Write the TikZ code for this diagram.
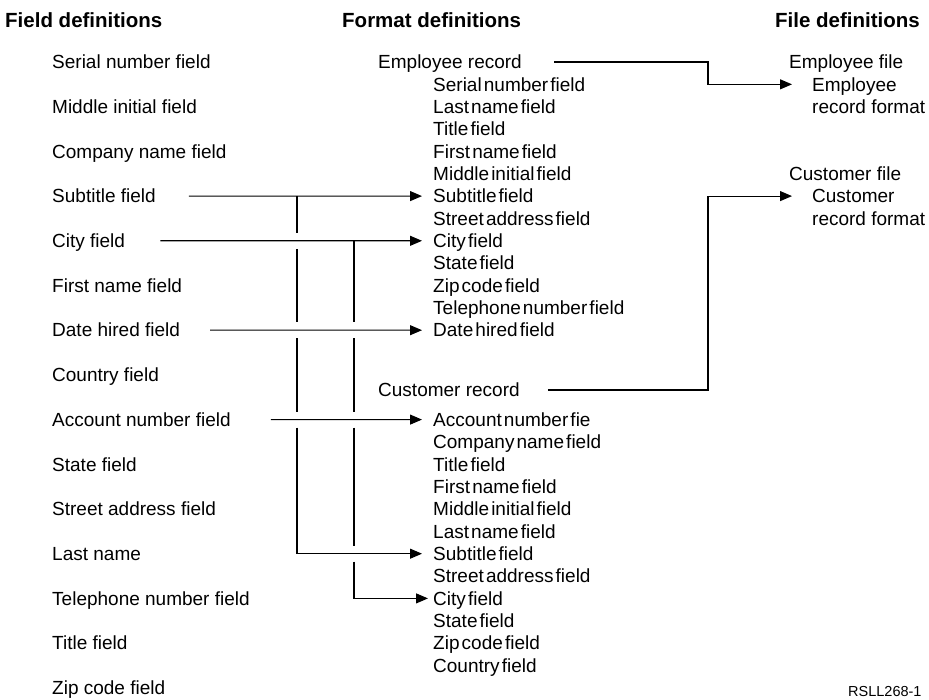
\documentclass[tikz,border=0pt]{standalone}
\usepackage{fontspec}
\setmainfont{Liberation Sans}
\newfontfamily\tightfont[WordSpace=0.4]{Liberation Sans}
\usetikzlibrary{arrows.meta}

\begin{document}
\begin{tikzpicture}[line cap=butt,line join=miter,>={Triangle[length=12pt,width=10pt]},x=1pt,y=-1pt,
  hdr/.style={anchor=west,inner sep=0pt,text height=14.7pt,text depth=0pt,font=\fontsize{20.5}{24}\selectfont\bfseries},
  fld/.style={anchor=west,inner sep=0pt,text height=13.6pt,text depth=0pt,font=\fontsize{19}{22}\selectfont},
  fmt/.style={fld,font=\fontsize{19}{22}\selectfont\tightfont},
  conn/.style={line width=1.1pt}]
\useasboundingbox (0,0) rectangle (929,700);
% headings
\node[hdr] (hField) at (5,20) {Field definitions};
\node[hdr] (hFormat) at (342,20) {Format definitions};
\node[hdr] (hFile) at (775,20) {File definitions};
% field definitions
\foreach \t [count=\i from 0] in {Serial number field,Middle initial field,Company name field,Subtitle field,City field,First name field,Date hired field,Country field,Account number field,State field,Street address field,Last name,Telephone number field,Title field,Zip code field}
  \node[fld] (l\i) at (52,{62+44.7*\i}) {\t};
% format definitions
\node[fld] (eRec) at (378,62) {Employee record};
\foreach \t [count=\i from 0] in {Serial number field,Last name field,Title field,First name field,Middle initial field,Subtitle field,Street address field,City field,State field,Zip code field,Telephone number field,Date hired field}
  \node[fmt] (e\i) at (433,{84.35+22.35*\i}) {\t};
\node[fld] (cRec) at (378,390) {Customer record};
\foreach \t [count=\i from 0] in {Account number fie,Company name field,Title field,First name field,Middle initial field,Last name field,Subtitle field,Street address field,City field,State field,Zip code field,Country field}
  \node[fmt] (c\i) at (433,{419.6+22.35*\i}) {\t};
% file definitions
\node[fld] (fEmp) at (789,62) {Employee file};
\node[fld] (fEmpA) at (812,84.35) {Employee};
\node[fld] (fEmpB) at (812,106.7) {record format};
\node[fld] (fCus) at (789,173.75) {Customer file};
\node[fld] (fCusA) at (812,196.1) {Customer};
\node[fld] (fCusB) at (812,218.45) {record format};
\node[anchor=west,inner sep=0pt,font=\fontsize{14.5}{17}\selectfont] (tag) at (848,692) {RSLL268-1};

% straight arrows
\draw[conn,->] ([xshift=33]l3.east) -- ([xshift=-11]e5.west);
\draw[conn,->] ([xshift=35]l4.east) -- ([xshift=-11]e7.west);
\draw[conn,->] ([xshift=30]l6.east) -- ([xshift=-11]e11.west);
\draw[conn,->] ([xshift=40]l8.east) -- ([xshift=-11]c0.west);
% jumping lines
\coordinate (ja) at (297,0);
\coordinate (jb) at (354,0);
\draw[conn] (l3.east -| ja) -- ([yshift=8]l4.east -| ja);
\draw[conn] ([yshift=-8]l4.east -| ja) -- ([yshift=8]l6.east -| ja);
\draw[conn] ([yshift=-8]l6.east -| ja) -- ([yshift=8]l8.east -| ja);
\draw[conn,->] ([yshift=-8]l8.east -| ja) |- ([xshift=-11]c6.west);
\draw[conn] (l4.east -| jb) -- ([yshift=8]l6.east -| jb);
\draw[conn] ([yshift=-8]l6.east -| jb) -- ([yshift=8]l8.east -| jb);
\draw[conn] ([yshift=-8]l8.east -| jb) -- ([yshift=8]c6.west -| jb);
\draw[conn,->] ([yshift=-8]c6.west -| jb) |- ([xshift=-5]c8.west);
% records to files
\coordinate (bend) at (708,0);
\draw[conn,->] ([xshift=32]eRec.east) -- (eRec.east -| bend) |- ([xshift=-20]fEmpA.west);
\draw[conn,->] ([xshift=28]cRec.east) -- (cRec.east -| bend) |- ([xshift=-20]fCusA.west);
\end{tikzpicture}
\end{document}
